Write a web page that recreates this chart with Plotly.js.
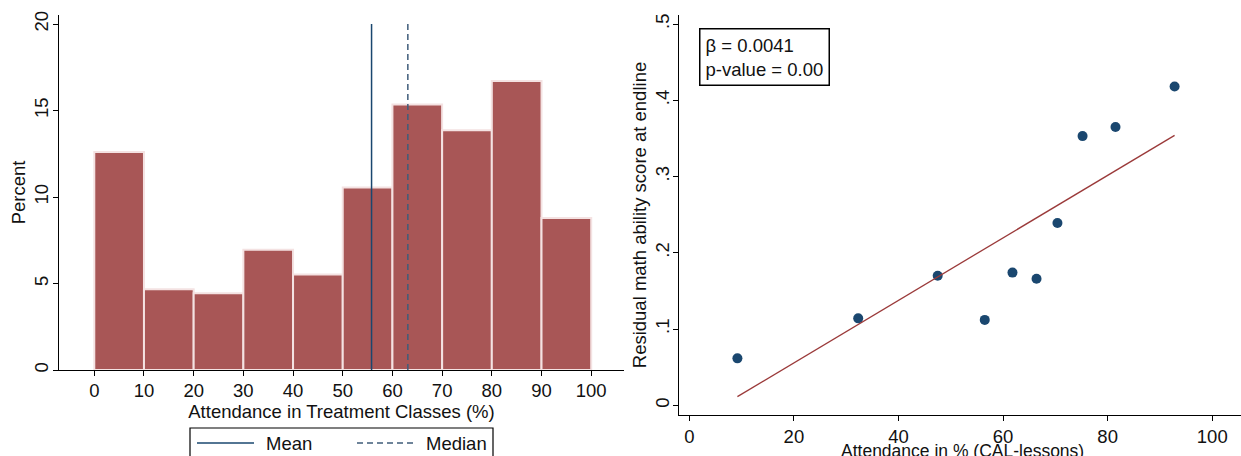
<!DOCTYPE html>
<html>
<head>
<meta charset="utf-8">
<script src="https://cdn.plot.ly/plotly-3.0.1.min.js"></script>
<style>html,body{margin:0;padding:0;background:#fff;}#chart{width:1241px;height:456px;}</style>
</head>
<body>
<div id="chart"></div>
<script>
// Histogram (left panel)
const binStarts = [0, 10, 20, 30, 40, 50, 60, 70, 80, 90];
const binPercent = [12.6, 4.67, 4.44, 6.95, 5.52, 10.55, 15.35, 13.86, 16.7, 8.78];
const meanAttendance = 55.8;
const medianAttendance = 63.1;
const refLineSpan = [0, 20];
const legendLabels = ['Mean', 'Median'];

// Scatter (right panel)
const attendancePct = [9.2, 32.3, 47.5, 56.5, 61.8, 66.4, 70.4, 75.2, 81.5, 92.8];
const residualScore = [0.0616, 0.114, 0.170, 0.112, 0.174, 0.166, 0.239, 0.353, 0.365, 0.418];
const fitX = [9.2, 92.8];
const fitY = [0.0114, 0.354];
const statsText = ['β = 0.0041', 'p-value = 0.00'];
const rightXTitle = 'Attendance in % (CAL-lessons)';

const xTicksLeft = [0,10,20,30,40,50,60,70,80,90,100];
const yTicksLeft = [0,5,10,15,20];
const xTicksRight = [0,20,40,60,80,100];
const yTicksRight = [0,0.1,0.2,0.3,0.4,0.5];
const yTickTextRight = ['0','.1','.2','.3','.4','.5'];

const W = 1241, H = 456;
const px = v => v / W;
const py = v => 1 - v / H;

const FONT = 'Liberation Sans, Arial, sans-serif';
const FS = 18.5;
const barColor = '#a85656';
const navy = '#1a476f';
const medianColor = '#3f5c7a';

const traces = [
  {
    type: 'bar', x: binStarts.map(b => b + 5), y: binPercent, width: 10,
    marker: {color: barColor, line: {color: '#f4e2e2', width: 2}},
    xaxis: 'x', yaxis: 'y', showlegend: false
  },
  {
    type: 'scatter', mode: 'lines', name: legendLabels[0],
    x: [meanAttendance, meanAttendance], y: refLineSpan,
    line: {color: navy, width: 1.5}, xaxis: 'x', yaxis: 'y', showlegend: false
  },
  {
    type: 'scatter', mode: 'lines', name: legendLabels[1],
    x: [medianAttendance, medianAttendance], y: refLineSpan,
    line: {color: medianColor, width: 1.5, dash: '6px,4px'}, xaxis: 'x', yaxis: 'y', showlegend: false
  },
  {
    type: 'scatter', mode: 'markers', x: attendancePct, y: residualScore,
    marker: {color: navy, size: 10}, xaxis: 'x2', yaxis: 'y2', showlegend: false
  },
  {
    type: 'scatter', mode: 'lines', x: fitX, y: fitY,
    line: {color: '#9b3a3a', width: 1.3}, xaxis: 'x2', yaxis: 'y2', showlegend: false
  }
];

const axisCommon = {
  showline: true, linecolor: '#000', linewidth: 1, automargin: false,
  ticks: 'outside', ticklen: 5, tickcolor: '#000', tickwidth: 1,
  showgrid: false, zeroline: false,
  tickfont: {family: FONT, size: FS, color: '#111'}
};
const titleFont = {family: FONT, size: FS, color: '#111'};

const layout = {
  width: W, height: H,
  margin: {l: 0, r: 0, t: 0, b: 0},
  paper_bgcolor: '#fff', plot_bgcolor: '#fff',
  font: {family: FONT, size: FS, color: '#111'},
  bargap: 0,
  showlegend: false,
  xaxis: Object.assign({}, axisCommon, {
    domain: [px(59), px(624)], range: [-7.1, 106.6],
    tickvals: xTicksLeft, anchor: 'y', ticklabelstandoff: -1,
    title: {text: 'Attendance in Treatment Classes (%)', font: titleFont, standoff: 0}
  }),
  yaxis: Object.assign({}, axisCommon, {
    domain: [py(370), py(15)], range: [0, 20.52],
    tickvals: yTicksLeft, tickangle: -90, anchor: 'x', ticklabelstandoff: -2,
    title: {text: 'Percent', font: titleFont, standoff: 0}
  }),
  xaxis2: Object.assign({}, axisCommon, {
    domain: [px(679), 1], range: [-1.97, 105.5],
    tickvals: xTicksRight, anchor: 'y2', ticklabelstandoff: 0
  }),
  yaxis2: Object.assign({}, axisCommon, {
    domain: [py(415), py(15)], range: [-0.0127, 0.5118],
    tickvals: yTicksRight, ticktext: yTickTextRight, tickangle: -90, anchor: 'x2', ticklabelstandoff: -3,
    title: {text: 'Residual math ability score at endline', font: titleFont, standoff: 0}
  }),
  shapes: [
    // legend frame
    {type: 'rect', xref: 'paper', yref: 'paper', x0: px(190), x1: px(493), y0: py(470), y1: py(428),
     line: {color: '#000', width: 1.2}, fillcolor: 'rgba(0,0,0,0)'},
    {type: 'line', xref: 'paper', yref: 'paper', x0: px(197), x1: px(254), y0: py(443), y1: py(443),
     line: {color: navy, width: 1.5}},
    {type: 'line', xref: 'paper', yref: 'paper', x0: px(357), x1: px(415), y0: py(443), y1: py(443),
     line: {color: medianColor, width: 1.5, dash: '6px,4px'}}
  ],
  annotations: [
    {xref: 'paper', yref: 'paper', x: px(264), y: py(443), xanchor: 'left', yanchor: 'middle',
     text: legendLabels[0], showarrow: false, font: titleFont},
    {xref: 'paper', yref: 'paper', x: px(424), y: py(443), xanchor: 'left', yanchor: 'middle',
     text: legendLabels[1], showarrow: false, font: titleFont},
    {xref: 'x2', yref: 'paper', x: 52.3, y: py(439), xanchor: 'center', yanchor: 'top',
     text: rightXTitle, showarrow: false, font: {family: FONT, size: 17.5, color: '#111'}},
    {xref: 'x2', yref: 'y2', x: 1.8, y: 0.495, xanchor: 'left', yanchor: 'top',
     text: statsText.join('<br>'), align: 'left', showarrow: false,
     font: titleFont, bordercolor: '#000', borderwidth: 1.5, borderpad: 5, bgcolor: '#fff'}
  ]
};

Plotly.newPlot('chart', traces, layout, {displayModeBar: false, staticPlot: true});
</script>
</body>
</html>
